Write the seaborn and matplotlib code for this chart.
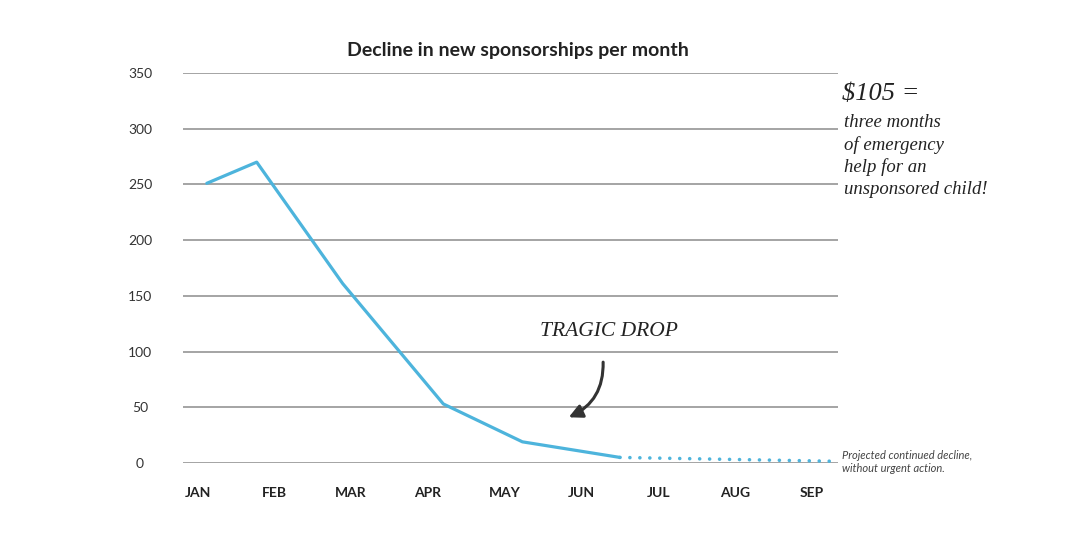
import seaborn as sns
import matplotlib.pyplot as plt

# values (x in month units, JAN = 0)
months = ["JAN", "FEB", "MAR", "APR", "MAY", "JUN", "JUL", "AUG", "SEP"]
month_pos = [0.12, 0.77, 1.89, 3.2, 4.23, 5.5]
sponsorships = [251, 270, 161, 53, 19, 5]
proj_pos = [5.5, 8.33]
proj_values = [5, 1.5]
y_ticks = [0, 50, 100, 150, 200, 250, 300, 350]

sns.set_style("white")
plt.rcParams["font.family"] = ["Lato", "DejaVu Sans"]

W, H = 1080, 542
fig = plt.figure(figsize=(W / 100, H / 100), dpi=100)
ax = fig.add_axes([183 / W, 1 - 463 / H, (838 - 183) / W, (463 - 73) / H])

blue = "#4db4dc"
sns.lineplot(x=month_pos, y=sponsorships, ax=ax, color=blue, linewidth=2.3)
sns.lineplot(x=proj_pos, y=proj_values, ax=ax, color=blue, linewidth=2.6,
             linestyle=(0, (0.01, 2.75)), dash_capstyle="round")

ax.set_xlim(-0.19, 8.34)
ax.set_ylim(0, 350)
ax.set_yticks(y_ticks)
ax.set_xticks(range(len(months)))
ax.set_xticklabels(months, fontsize=10, fontweight="bold", color="#222222")
ax.tick_params(axis="y", length=0, pad=31, labelsize=10, labelcolor="#333333")
ax.tick_params(axis="x", length=0, pad=17)
for lab in ax.get_yticklabels():
    lab.set_horizontalalignment("center")

ax.grid(axis="y", color="#8c8c8c", linewidth=1.1)
ax.grid(axis="x", visible=False)
for s in ax.spines.values():
    s.set_visible(False)

fig.text(518 / W, 1 - 51 / H, "Decline in new sponsorships per month",
         ha="center", va="center", fontsize=14, fontweight="bold", color="#222222")

# handwritten notes
hand = ["Liberation Serif", "DejaVu Serif"]
fig.text(842 / W, 1 - 94 / H, "$105 =", family=hand, style="italic",
         fontsize=19, color="#222222", va="center")
fig.text(844 / W, 1 - 156 / H,
         "three months\nof emergency\nhelp for an\nunsponsored child!",
         family=hand, style="italic", fontsize=13.5, color="#222222",
         va="center", linespacing=1.35)
fig.text(609 / W, 1 - 332 / H, "TRAGIC DROP", family=hand, style="italic",
         fontsize=15.5, color="#222222", ha="center", va="center")
ax.annotate("", xy=(4.8, 40), xytext=(5.28, 93),
            arrowprops=dict(arrowstyle="-|>", color="#333333", lw=2.2,
                            mutation_scale=20,
                            connectionstyle="arc3,rad=-0.35"))

fig.text(842 / W, 1 - 462 / H, "Projected continued decline,\nwithout urgent action.",
         style="italic", fontsize=8, color="#444444", va="center", linespacing=1.15)

fig.savefig("out.png", dpi=100, facecolor="white")
